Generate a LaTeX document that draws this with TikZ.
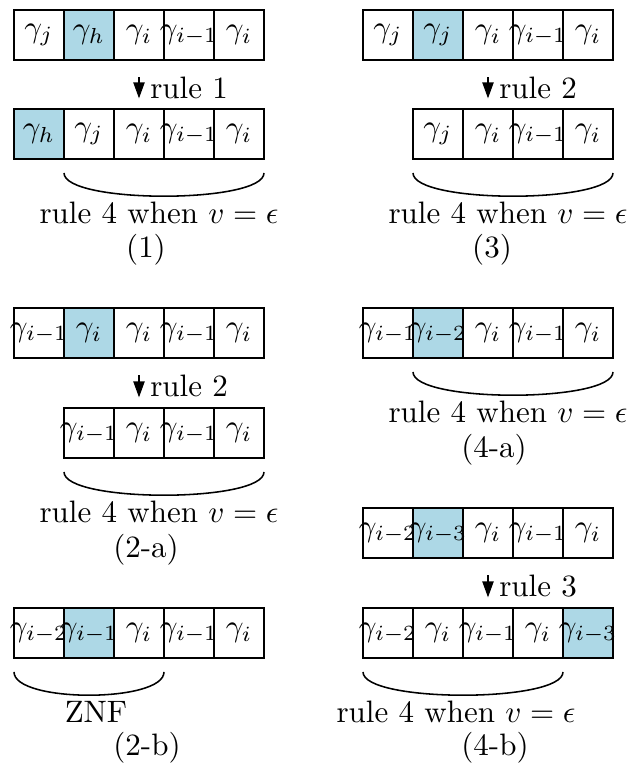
\documentclass[tikz,border=0pt]{standalone}
\usetikzlibrary{arrows.meta,calc}
\definecolor{cellblue}{RGB}{173,216,230}
\newcommand\cv[1]{\makebox[0pt]{$#1$}}
\newcommand\cellrow[4]{%
  \foreach \st/\ct [count=\k] in {#4} {%
    \node[\st] (#1\k) at ({#2+50*(\k-1)},#3) {\cv{\ct}};
  }%
}
\tikzset{
  cell/.style={draw, line width=0.5pt, minimum width=16.13pt, minimum height=16.13pt, inner sep=0pt, outer sep=0pt},
  hl/.style={cell, fill=cellblue},
  rulearrow/.style={-{Triangle[length=5.2pt,width=3.6pt]}, line width=0.6pt, shorten <=5.6pt, shorten >=3.4pt},
  bracepath/.style={line width=0.5pt},
}
\begin{document}
\begin{tikzpicture}[x=0.3226pt,y=-0.3226pt]
\useasboundingbox (0,0) rectangle (641,766);
% Panel (1)
\cellrow{p1a}{39}{35}{cell/\gamma_j, hl/\gamma_h, cell/\gamma_i, cell/\gamma_{i-1}, cell/\gamma_i}
\cellrow{p1b}{39}{134}{hl/\gamma_h, cell/\gamma_j, cell/\gamma_i, cell/\gamma_{i-1}, cell/\gamma_i}
\draw[rulearrow] (p1a3) -- (p1b3) node[midway,right,yshift=-1pt] {rule 1};
\draw[bracepath] ([yshift=-4.5pt]p1b2.south west) to[out=-90,in=-90,distance=10pt] ([yshift=-4.5pt]p1b5.south east);
\node (p1t) at (159,213) {rule 4 when $v=\epsilon$};
\node (p1l) at (146,250) {(1)};
% Panel (3)
\cellrow{p3a}{388}{35}{cell/\gamma_j, hl/\gamma_j, cell/\gamma_i, cell/\gamma_{i-1}, cell/\gamma_i}
\cellrow{p3b}{438}{134}{cell/\gamma_j, cell/\gamma_i, cell/\gamma_{i-1}, cell/\gamma_i}
\draw[rulearrow] (p3a3) -- (p3b2) node[midway,right,yshift=-1pt] {rule 2};
\draw[bracepath] ([yshift=-4.5pt]p3b1.south west) to[out=-90,in=-90,distance=10pt] ([yshift=-4.5pt]p3b4.south east);
\node (p3t) at (508,213) {rule 4 when $v=\epsilon$};
\node (p3l) at (492,250) {(3)};
% Panel (2-a)
\cellrow{p2a}{39}{333}{cell/\gamma_{i-1}, hl/\gamma_i, cell/\gamma_i, cell/\gamma_{i-1}, cell/\gamma_i}
\cellrow{p2c}{89}{433}{cell/\gamma_{i-1}, cell/\gamma_i, cell/\gamma_{i-1}, cell/\gamma_i}
\draw[rulearrow] (p2a3) -- (p2c2) node[midway,right,yshift=-1pt] {rule 2};
\draw[bracepath] ([yshift=-4.5pt]p2c1.south west) to[out=-90,in=-90,distance=10pt] ([yshift=-4.5pt]p2c4.south east);
\node (p2at) at (159,512) {rule 4 when $v=\epsilon$};
\node (p2al) at (146,550) {(2-a)};
% Panel (4-a)
\cellrow{p4a}{388}{333}{cell/\gamma_{i-1}, hl/\gamma_{i-2}, cell/\gamma_i, cell/\gamma_{i-1}, cell/\gamma_i}
\draw[bracepath] ([yshift=-4.5pt]p4a2.south west) to[out=-90,in=-90,distance=10pt] ([yshift=-4.5pt]p4a5.south east);
\node (p4at) at (508,412) {rule 4 when $v=\epsilon$};
\node (p4al) at (494,450) {(4-a)};
% Panel (4-b)
\cellrow{p4b}{388}{533}{cell/\gamma_{i-2}, hl/\gamma_{i-3}, cell/\gamma_i, cell/\gamma_{i-1}, cell/\gamma_i}
\cellrow{p4c}{388}{633}{cell/\gamma_{i-2}, cell/\gamma_i, cell/\gamma_{i-1}, cell/\gamma_i, hl/\gamma_{i-3}}
\draw[rulearrow] (p4b3) -- (p4c3) node[midway,right,yshift=-1pt] {rule 3};
\draw[bracepath] ([yshift=-4.5pt]p4c1.south west) to[out=-90,in=-90,distance=10pt] ([yshift=-4.5pt]p4c4.south east);
\node (p4bt) at (456,712) {rule 4 when $v=\epsilon$};
\node (p4bl) at (495,748) {(4-b)};
% Panel (2-b)
\cellrow{p2b}{39}{633}{cell/\gamma_{i-2}, hl/\gamma_{i-1}, cell/\gamma_i, cell/\gamma_{i-1}, cell/\gamma_i}
\draw[bracepath] ([yshift=-4.5pt]p2b1.south west) to[out=-90,in=-90,distance=10pt] ([yshift=-4.5pt]p2b3.south east);
\node (p2bt) at (96,712) {ZNF};
\node (p2bl) at (147,748) {(2-b)};
\end{tikzpicture}
\end{document}
